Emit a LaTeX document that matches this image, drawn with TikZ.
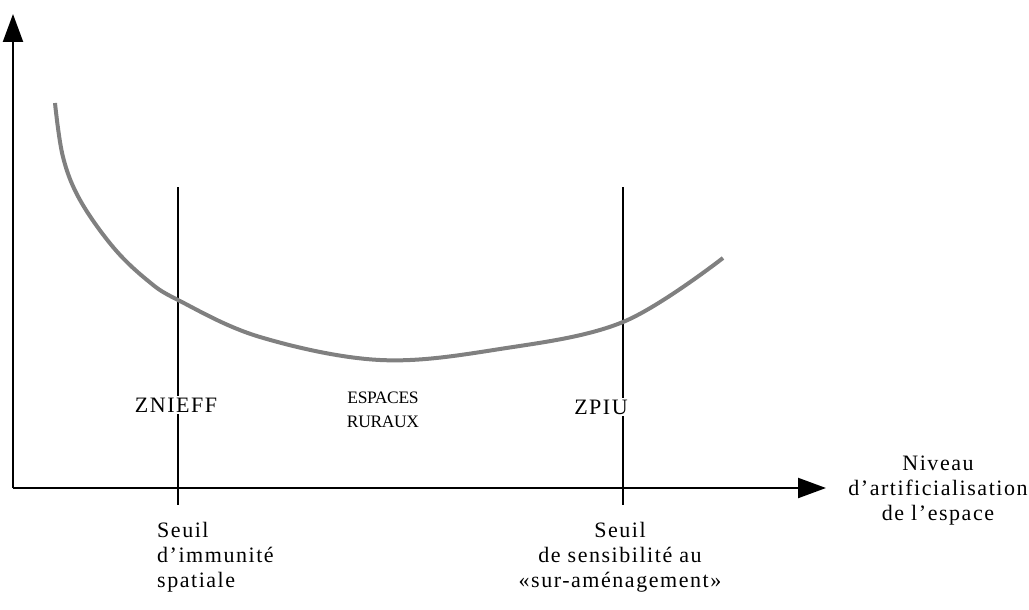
\documentclass[tikz,border=0pt]{standalone}
\usepackage{fontspec}
\setmainfont{Liberation Serif}[LetterSpace=7]
\newfontfamily\tightserif{Liberation Serif}[LetterSpace=-2]
\usetikzlibrary{arrows.meta}
\begin{document}
\begin{tikzpicture}[x=1pt,y=-1pt,
  axisline/.style={line width=2.2pt,-{Triangle[length=28pt,width=20pt]}},
  seuilline/.style={line width=2pt},
  curveline/.style={line width=4pt,black!50},
  lbl/.style={font=\fontsize{22}{25}\selectfont,inner sep=1pt},
  smalllbl/.style={font=\tightserif\fontsize{17.5}{24}\selectfont,inner sep=1pt,align=center},
  mark lbl/.style={lbl,fill=white,inner sep=2pt}]
\useasboundingbox (0,0) rectangle (1029,610);
% axes
\coordinate (O) at (13,488);
\coordinate (ytip) at (13,14);
\coordinate (xtip) at (826,488);
\draw[axisline] (O) -- (ytip);
\draw[axisline] (O) -- (xtip);
% threshold lines
\coordinate (s1top) at (178,187);
\coordinate (s1bot) at (178,505);
\coordinate (s2top) at (623,187);
\coordinate (s2bot) at (623,505);
\draw[seuilline] (s1top) -- (s1bot);
\draw[seuilline] (s2top) -- (s2bot);
% curve
\draw[curveline] plot[smooth,tension=0.6] coordinates
  {(55,103) (63,157) (80,200) (113,247) (147,280) (178,300) (260,337) (380,360) (500,349) (623,322) (723,258)};
% labels
\node[mark lbl] (znieff) at (176,405) {ZNIEFF};
\node[smalllbl] (espaces) at (383,410) {ESPACES\\RURAUX};
\node[mark lbl] (zpiu) at (601,407) {ZPIU};
\node[lbl,align=center] (niveau) at (938,491) {Niveau\\d’artificialisation\\de l’espace};
\node[lbl,align=left,anchor=north west] (seuil1) at (156,521) {Seuil\\d’immunité\\spatiale};
\node[lbl,align=center,anchor=north] (seuil2) at (620,521) {Seuil\\de sensibilité au\\«sur-aménagement»};
\end{tikzpicture}
\end{document}
